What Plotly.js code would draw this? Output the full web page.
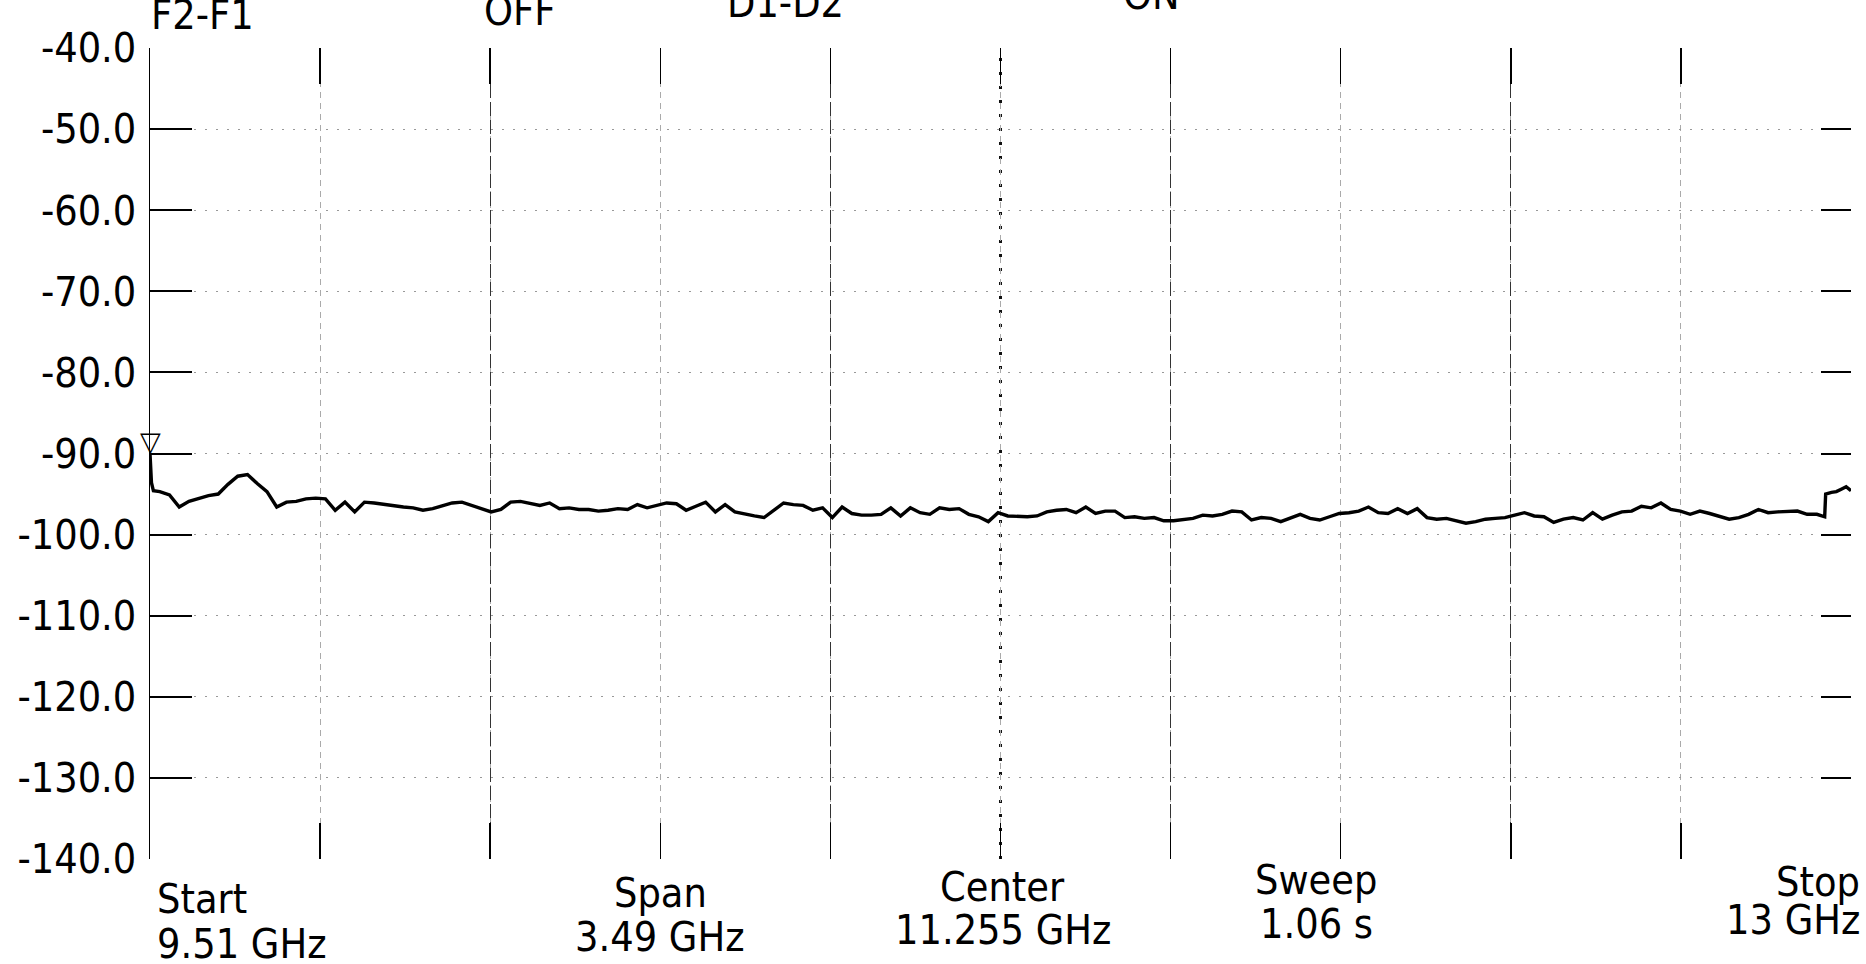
<!DOCTYPE html>
<html>
<head>
<meta charset="utf-8">
<script src="https://cdn.plot.ly/plotly-3.0.1.min.js"></script>
<style>
  html, body { margin: 0; padding: 0; background: #fff; }
  #chart { width: 1866px; height: 964px; }
</style>
</head>
<body>
<div id="chart"></div>
<script>
// ---- data (frequency in GHz, level in dBm) ----
const freqGHz = [
  9.510, 9.513, 9.517, 9.530, 9.550, 9.570, 9.590, 9.610, 9.630, 9.650,
  9.670, 9.690, 9.710, 9.730, 9.750, 9.770, 9.790, 9.810, 9.830, 9.850,
  9.870, 9.890, 9.910, 9.930, 9.950, 9.970, 9.990, 10.010, 10.030, 10.050,
  10.070, 10.090, 10.110, 10.130, 10.150, 10.170, 10.190, 10.210, 10.230, 10.250,
  10.270, 10.290, 10.310, 10.330, 10.350, 10.370, 10.390, 10.410, 10.430, 10.450,
  10.470, 10.490, 10.510, 10.530, 10.550, 10.570, 10.590, 10.610, 10.630, 10.650,
  10.670, 10.690, 10.710, 10.730, 10.750, 10.770, 10.790, 10.810, 10.830, 10.850,
  10.870, 10.890, 10.910, 10.930, 10.950, 10.970, 10.990, 11.010, 11.030, 11.050,
  11.070, 11.090, 11.110, 11.130, 11.150, 11.170, 11.190, 11.210, 11.230, 11.250,
  11.270, 11.290, 11.310, 11.330, 11.350, 11.370, 11.390, 11.410, 11.430, 11.450,
  11.470, 11.490, 11.510, 11.530, 11.550, 11.570, 11.590, 11.610, 11.630, 11.650,
  11.670, 11.690, 11.710, 11.730, 11.750, 11.770, 11.790, 11.810, 11.830, 11.850,
  11.870, 11.890, 11.910, 11.930, 11.950, 11.970, 11.990, 12.010, 12.030, 12.050,
  12.070, 12.090, 12.110, 12.130, 12.150, 12.170, 12.190, 12.210, 12.230, 12.250,
  12.270, 12.290, 12.310, 12.330, 12.350, 12.370, 12.390, 12.410, 12.430, 12.450,
  12.470, 12.490, 12.510, 12.530, 12.550, 12.570, 12.590, 12.610, 12.630, 12.650,
  12.670, 12.690, 12.710, 12.730, 12.750, 12.770, 12.790, 12.810, 12.830, 12.850,
  12.870, 12.890, 12.910, 12.930, 12.946, 12.948, 12.960, 12.970, 12.980, 12.990,
  13.000
];
const levelDbm = [
  -90.0, -93.6, -94.6, -94.7, -95.1, -96.6, -95.9, -95.5, -95.2, -95.0,
  -93.8, -92.8, -92.6, -93.7, -94.7, -96.6, -96.0, -95.9, -95.6, -95.5,
  -95.6, -97.0, -96.0, -97.2, -96.0, -96.1, -96.3, -96.4, -96.6, -96.7,
  -97.0, -96.8, -96.4, -96.1, -96.0, -96.4, -96.8, -97.2, -96.9, -96.0,
  -95.9, -96.1, -96.4, -96.1, -96.8, -96.7, -96.9, -96.9, -97.1, -97.0,
  -96.8, -96.9, -96.3, -96.7, -96.4, -96.1, -96.2, -97.0, -96.5, -96.0,
  -97.2, -96.3, -97.2, -97.5, -97.7, -97.9, -97.0, -96.1, -96.3, -96.4,
  -97.0, -96.7, -97.9, -96.6, -97.4, -97.6, -97.6, -97.5, -96.7, -97.7,
  -96.7, -97.3, -97.5, -96.7, -96.9, -96.8, -97.5, -97.8, -98.4, -97.3,
  -97.7, -97.8, -97.8, -97.7, -97.2, -97.0, -96.9, -97.3, -96.6, -97.4,
  -97.1, -97.1, -97.9, -97.8, -98.0, -97.9, -98.3, -98.3, -98.2, -98.0,
  -97.6, -97.7, -97.5, -97.1, -97.2, -98.2, -97.9, -98.0, -98.4, -98.0,
  -97.5, -98.0, -98.2, -97.8, -97.4, -97.3, -97.1, -96.6, -97.3, -97.4,
  -96.8, -97.4, -96.8, -97.9, -98.1, -98.0, -98.3, -98.6, -98.4, -98.1,
  -98.0, -97.9, -97.6, -97.3, -97.7, -97.8, -98.5, -98.1, -97.9, -98.2,
  -97.3, -98.1, -97.6, -97.2, -97.1, -96.5, -96.7, -96.1, -96.9, -97.1,
  -97.5, -97.1, -97.4, -97.7, -98.1, -97.9, -97.5, -96.9, -97.3, -97.2,
  -97.2, -97.1, -97.5, -97.5, -97.8, -95.0, -94.8, -94.7, -94.4, -94.1,
  -94.6
];

// axis settings from the printout
const startGHz = 9.51;
const stopGHz = 13.0;
const centerGHz = 11.255;
const divGHz = 0.349;
const refLevel = -40;
const bottomLevel = -140;
const yTickVals = [-40, -50, -60, -70, -80, -90, -100, -110, -120, -130, -140];
const yTickText = ["-40.0", "-50.0", "-60.0", "-70.0", "-80.0", "-90.0", "-100.0", "-110.0", "-120.0", "-130.0", "-140.0"];

// marker (triangle at start)
const markerFreq = [9.51];
const markerLevel = [-90];

// header / footer texts
const headerTexts = ["F2-F1", "OFF", "D1-D2", "ON"];
const footerTop = ["Start", "Span", "Center", "Sweep", "Stop"];
const footerBottom = ["9.51 GHz", "3.49 GHz", "11.255 GHz", "1.06 s", "13 GHz"];

// ---- layout geometry (pixels) ----
const W = 1866, H = 964;
const L = 150, R = 1851, T = 48, B = 859;
const px = p => (p - L) / (R - L);
const py = p => (B - p) / (B - T);

const FONT = "'DejaVu Sans Condensed', 'DejaVu Sans', sans-serif";
const FS = 41;

// positions for header (x, anchor, baseline y) and footer
const headerPos = [[149, 'left', 30], [519, 'center', 26], [785, 'center', 18], [1151, 'center', 10]];
const footerPos = [
  [155, 'left', 914, 959],
  [660, 'center', 908, 952],
  [1003, 'center', 902, 945],
  [1316, 'center', 895, 939],
  [1862, 'right', 897, 935]
];

const annotations = [];
headerTexts.forEach((t, i) => {
  const [x, xa, base] = headerPos[i];
  annotations.push({
    text: t, xref: 'paper', yref: 'paper', x: px(x), xanchor: xa,
    y: py(base - 15), yanchor: 'middle', showarrow: false,
    font: { family: FONT, size: FS, color: '#000' }
  });
});
footerTop.forEach((t, i) => {
  const [x, xa, b1, b2] = footerPos[i];
  annotations.push({
    text: t, xref: 'paper', yref: 'paper', x: px(x), xanchor: xa,
    y: py(b1 - 15), yanchor: 'middle', showarrow: false,
    font: { family: FONT, size: FS, color: '#000' }
  });
  annotations.push({
    text: footerBottom[i], xref: 'paper', yref: 'paper', x: px(x), xanchor: xa,
    y: py(b2 - 15), yanchor: 'middle', showarrow: false,
    font: { family: FONT, size: FS, color: '#000' }
  });
});
// marker triangle
annotations.push({
  text: '\u25BD', xref: 'x', yref: 'y', x: markerFreq[0], y: markerLevel[0],
  xanchor: 'center', yanchor: 'bottom', yshift: -5, showarrow: false,
  font: { family: 'DejaVu Sans', size: 27, color: '#000' }
});

const traces = [
  {
    x: freqGHz, y: levelDbm, type: 'scatter', mode: 'lines',
    line: { color: '#000', width: 3.4 }, hoverinfo: 'skip', showlegend: false
  },
  {
    x: markerFreq, y: markerLevel, xaxis: 'x2', yaxis: 'y2', type: 'scatter', mode: 'markers',
    marker: { size: 1, color: 'rgba(0,0,0,0)' }, hoverinfo: 'skip', showlegend: false
  }
];

const layout = {
  width: W, height: H,
  margin: { l: L, r: W - R, t: T, b: H - B, pad: 0 },
  paper_bgcolor: '#fff', plot_bgcolor: '#fff',
  showlegend: false,
  font: { family: FONT, size: FS, color: '#000' },
  xaxis: {
    range: [startGHz, stopGHz], tickmode: 'linear', tick0: startGHz, dtick: divGHz,
    showticklabels: false, ticks: 'inside', ticklen: 36, tickwidth: 1.5, tickcolor: '#000',
    mirror: 'ticks', showline: false, zeroline: false,
    showgrid: true, gridcolor: '#aaa', gridwidth: 1, griddash: '6px,5px'
  },
  xaxis2: {
    overlaying: 'x', anchor: 'y2', range: [startGHz, stopGHz],
    tickmode: 'linear', tick0: startGHz, dtick: 2 * divGHz,
    showticklabels: false, ticks: '', showline: false, zeroline: false,
    showgrid: true, gridcolor: '#333', gridwidth: 1.3, griddash: '14px,4px'
  },
  yaxis: {
    range: [bottomLevel, refLevel], tickmode: 'array', tickvals: yTickVals, ticktext: yTickText,
    ticks: 'inside', ticklen: 42, tickwidth: 2, tickcolor: '#000',
    ticklabelstandoff: 4,
    showline: true, linecolor: '#000', linewidth: 1.5, mirror: false, zeroline: false,
    showgrid: true, gridcolor: '#999', gridwidth: 1, griddash: '2px,9px',
    tickfont: { family: FONT, size: FS, color: '#000' }
  },
  yaxis2: {
    overlaying: 'y', anchor: 'x2', side: 'right', range: [bottomLevel, refLevel],
    tickmode: 'array', tickvals: yTickVals, showticklabels: false,
    ticks: 'inside', ticklen: 30, tickwidth: 2, tickcolor: '#000',
    showline: false, zeroline: false, showgrid: false
  },
  shapes: [
    {
      type: 'line', xref: 'x', yref: 'paper', x0: centerGHz, x1: centerGHz, y0: 0, y1: 1,
      line: { color: '#111', width: 3, dash: '3px,11px' }, layer: 'below'
    }
  ],
  annotations: annotations
};

Plotly.newPlot('chart', traces, layout, { staticPlot: true, displayModeBar: false });
</script>
</body>
</html>
